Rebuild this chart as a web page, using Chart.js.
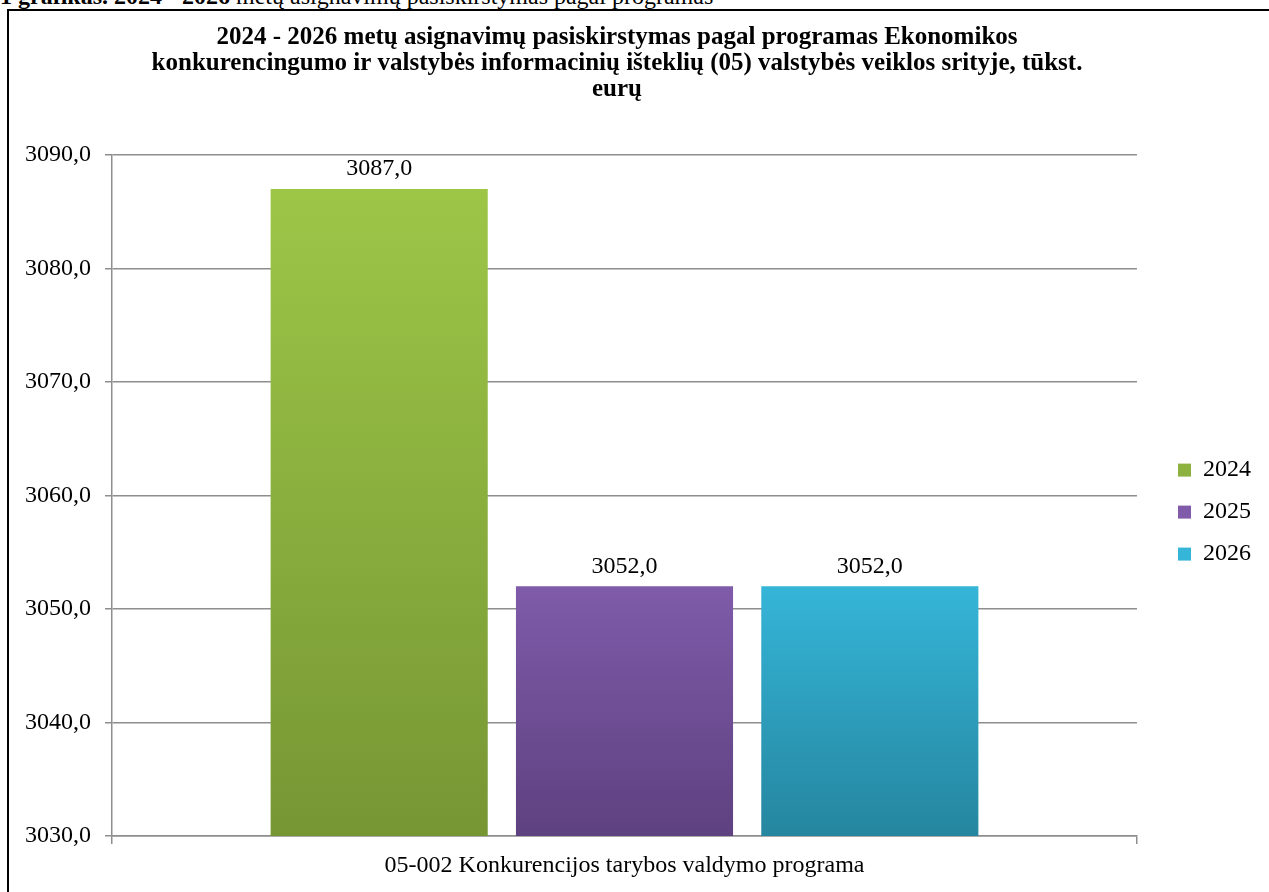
<!DOCTYPE html>
<html>
<head>
<meta charset="utf-8">
<script src="https://cdn.jsdelivr.net/npm/chart.js@4.4.1/dist/chart.umd.min.js"></script>
<style>
    html, body { margin: 0; padding: 0; background: #fff; overflow: hidden; }
    body { width: 1269px; height: 892px; position: relative; }
    #caption {
        position: absolute; left: 0; top: -16px; white-space: nowrap;
        font-family: 'Liberation Serif', serif; font-size: 24px; line-height: 24px; color: #000;
    }
    #frame {
        position: absolute; left: 7px; top: 9px; width: 1300px; height: 900px;
        border: 2px solid #000; pointer-events: none;
    }
    #wrap { position: absolute; left: 0; top: 0; width: 1269px; height: 892px; }
</style>
</head>
<body>
<div id="caption"><b>1 grafikas. 2024 - 2026</b> metų asignavimų pasiskirstymas pagal programas</div>
<div id="frame"></div>
<div id="wrap"><canvas id="budgetChart"></canvas></div>
<script>
const categories = ['05-002 Konkurencijos tarybos valdymo programa'];
const years = ['2024', '2025', '2026'];
const values2024 = [3087.0];
const values2025 = [3052.0];
const values2026 = [3052.0];
const yTicks = [3030, 3040, 3050, 3060, 3070, 3080, 3090];

const titleLines = [
    '2024 - 2026 metų asignavimų pasiskirstymas pagal programas Ekonomikos',
    'konkurencingumo ir valstybės informacinių išteklių (05) valstybės veiklos srityje, tūkst.',
    'eurų'
];

// viršus / vidurys / apačia
const palette = [
    ['#9dc647', '#8aae3d', '#769634'],
    ['#7f5ba9', '#6f4f95', '#5e4180'],
    ['#35b5d8', '#2d9ebd', '#25869f']
];

const serif = 'Liberation Serif';
const padLeft = -27;
const padRight = 8;
const plotRight = 1137;

function fmt(v) {
    return v.toFixed(1).replace('.', ',');
}

function barFill(i) {
    return function(ctx) {
        const chart = ctx.chart;
        const area = chart.chartArea;
        const c = palette[i];
        if (!area || ctx.dataIndex === undefined) return c[1];
        const top = chart.scales.y.getPixelForValue(ctx.raw);
        const g = chart.ctx.createLinearGradient(0, top, 0, area.bottom);
        g.addColorStop(0, c[0]);
        g.addColorStop(1, c[2]);
        return g;
    };
}

const valueLabels = {
    id: 'valueLabels',
    afterDatasetsDraw(chart) {
        const ctx = chart.ctx;
        ctx.save();
        ctx.font = '24px "' + serif + '"';
        ctx.fillStyle = '#000';
        ctx.textAlign = 'center';
        ctx.textBaseline = 'middle';
        chart.data.datasets.forEach((ds, i) => {
            chart.getDatasetMeta(i).data.forEach((bar, j) => {
                ctx.fillText(fmt(ds.data[j]), bar.x, bar.y - 20);
            });
        });
        ctx.restore();
    }
};

const gridColor = '#8e8e8e';

new Chart(document.getElementById('budgetChart'), {
    type: 'bar',
    data: {
        labels: categories,
        datasets: [
            { label: years[0], data: values2024, backgroundColor: barFill(0) },
            { label: years[1], data: values2025, backgroundColor: barFill(1) },
            { label: years[2], data: values2026, backgroundColor: barFill(2) }
        ]
    },
    options: {
        responsive: true,
        maintainAspectRatio: false,
        animation: false,
        categoryPercentage: 0.718,
        barPercentage: 0.885,
        layout: { padding: { left: padLeft, right: padRight, top: 0, bottom: 0 } },
        plugins: {
            tooltip: { enabled: false },
            title: {
                display: true,
                text: titleLines,
                color: '#000',
                font: { family: serif, size: 25, weight: 'bold', lineHeight: 1.04 },
                padding: { top: 25, bottom: 52 }
            },
            legend: {
                position: 'right',
                align: 'center',
                title: { display: true, text: '', font: { size: 1 }, padding: { top: 131, bottom: 0 } },
                labels: {
                    color: '#000',
                    boxWidth: 13,
                    boxHeight: 13,
                    padding: 18,
                    font: { family: serif, size: 24 }
                }
            }
        },
        scales: {
            x: {
                grid: { display: true, drawOnChartArea: false, drawTicks: true, tickLength: 8, color: gridColor, lineWidth: 1.5 },
                border: { display: true, color: gridColor, width: 1.5 },
                ticks: { color: '#000', padding: 7, font: { family: serif, size: 24 } },
                afterFit(scale) { scale.height = 56; }
            },
            y: {
                min: yTicks[0],
                max: yTicks[yTicks.length - 1],
                afterBuildTicks(scale) { scale.ticks = yTicks.map(v => ({ value: v })); },
                grid: { color: gridColor, lineWidth: 1.5, tickLength: 7 },
                border: { display: true, color: gridColor, width: 1.5 },
                ticks: {
                    color: '#000',
                    padding: 14,
                    font: { family: serif, size: 24 },
                    callback: v => fmt(v)
                },
                afterFit(scale) { scale.width = 112 - padLeft; }
            },
            yRight: {
                position: 'right',
                display: true,
                grid: { display: false },
                border: { display: false },
                ticks: { display: false },
                afterFit(scale) {
                    const lg = scale.chart.legend;
                    const lw = lg && lg.width ? lg.width : 100;
                    scale.width = Math.max(0, scale.chart.width - padRight - lw - plotRight);
                }
            }
        }
    },
    plugins: [valueLabels]
});
</script>
</body>
</html>
